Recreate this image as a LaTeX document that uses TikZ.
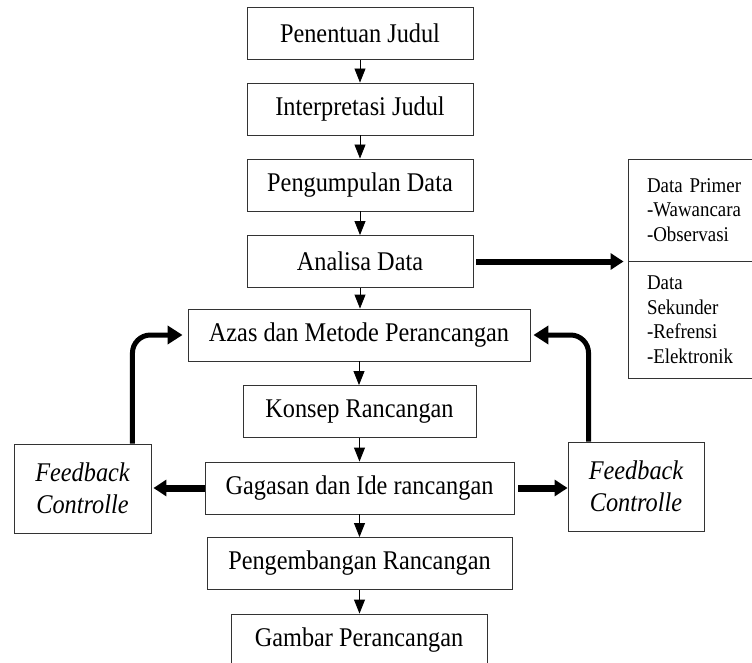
\documentclass[tikz,border=0pt]{standalone}
\usepackage{fontspec}
\setmainfont[FakeStretch=0.9]{Liberation Serif}
\usetikzlibrary{arrows.meta}

\tikzset{
  kotak/.style={draw=black!80, line width=0.9pt, inner sep=0pt, minimum height=52pt, font=\fontsize{27}{30}\selectfont},
  datakotak/.style={kotak, text width=86pt, inner xsep=19pt, align=left, font=\fontsize{21}{24.5}\selectfont},
  panah/.style={-{Triangle[width=11pt,length=14pt]}, line width=0.9pt},
  tebal/.style={-{Triangle[width=16pt,length=13pt]}, line width=7pt},
  balik/.style={-{Triangle[width=18pt,length=15pt]}, line width=5pt, rounded corners=18pt},
}

\begin{document}
\begin{tikzpicture}[x=1pt,y=-1pt]
  \useasboundingbox (0,0) rectangle (752,663);

  \node[kotak, minimum width=226pt] (pen) at (360,33.5) {Penentuan Judul};
  \node[kotak, minimum width=226pt] (int) at (360,109) {Interpretasi Judul};
  \node[kotak, minimum width=226pt] (pgm) at (360,185) {Pengumpulan Data};
  \node[kotak, minimum width=226pt] (ana) at (360,261.5) {Analisa Data};
  \node[kotak, minimum width=342pt] (azas) at (359,335) {Azas dan Metode Perancangan};
  \node[kotak, minimum width=233pt] (kon) at (359.5,411.5) {Konsep Rancangan};
  \node[kotak, minimum width=309pt] (gag) at (359.5,488) {Gagasan dan Ide rancangan};
  \node[kotak, minimum width=305pt] (peng) at (359.5,563.5) {Pengembangan Rancangan};
  \node[kotak, minimum width=256pt] (gam) at (359,640) {Gambar Perancangan};

  % kotak data di kanan
  \node[datakotak, minimum height=102pt] (prim) at (690,210)
    {\mbox{Data Primer}\\\mbox{-Wawancara}\\\mbox{-Observasi}};
  \node[datakotak, minimum height=117pt] (sek) at (690,319.5)
    {\mbox{Data}\\\mbox{Sekunder}\\\mbox{-Refrensi}\\\mbox{-Elektronik}};

  \node[kotak, minimum width=137pt, minimum height=89pt, align=center,
        font=\itshape\fontsize{27}{32}\selectfont] (fbl) at (82.5,488.5) {Feedback\\Controlle};
  \node[kotak, minimum width=136pt, minimum height=89pt, align=center,
        font=\itshape\fontsize{27}{32}\selectfont] (fbr) at (636,486.5) {Feedback\\Controlle};

  \foreach \a/\b in {pen/int, int/pgm, pgm/ana, ana/azas, azas/kon, kon/gag, gag/peng, peng/gam}{
    \draw[panah] (\a.south) -- (\a.south |- \b.north);
  }

  \draw[tebal, line width=6pt, shorten >=4pt] ([xshift=3pt]ana.east) -- (ana.east -| prim.west);
  \draw[tebal, shorten >=2pt] (gag.west) -- (gag.west -| fbl.east);
  \draw[tebal, shorten <=4pt] (gag.east) -- (gag.east -| fbr.west);

  \draw[balik] ([xshift=-19pt]fbl.north east) |- ([xshift=-5pt]azas.west);
  \draw[balik] ([xshift=21pt]fbr.north west) |- ([xshift=3pt]azas.east);
\end{tikzpicture}
\end{document}
